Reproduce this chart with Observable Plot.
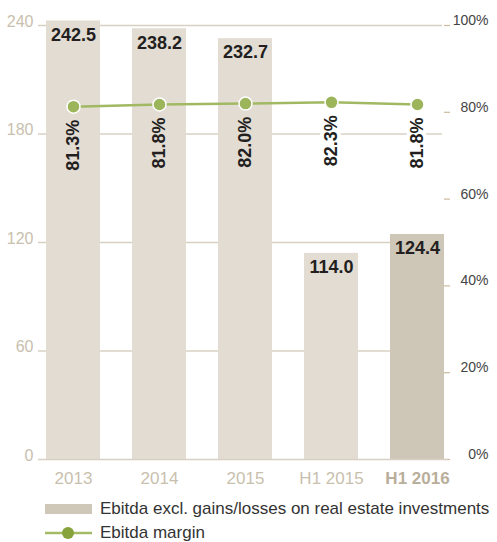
<!DOCTYPE html>
<html><head><meta charset="utf-8">
<script src="https://cdn.jsdelivr.net/npm/d3@7"></script>
<script src="https://cdn.jsdelivr.net/npm/@observablehq/plot@0.6"></script>
<style>
body{margin:0;background:#fff;font-family:"Liberation Sans",Arial,sans-serif;}
#legend{padding-top:5px;font-size:17px;color:#333;white-space:nowrap;}
.row{display:flex;align-items:center;height:24px;}
.sw{width:55px;padding-left:45px;display:flex;align-items:center;flex:none;}
</style>
</head><body>
<div id="chart"></div>
<div id="legend">
  <div class="row"><div class="sw"><div style="width:47px;height:10px;background:#cfc7b7"></div></div><span>Ebitda excl. gains/losses on real estate investments</span></div>
  <div class="row"><div class="sw"><svg width="47" height="14"><line x1="0" x2="47" y1="7" y2="7" stroke="#a3ba66" stroke-width="2.5"/><circle cx="23" cy="7" r="6" fill="#86a23a"/></svg></div><span>Ebitda margin</span></div>
</div>
<script>
const categories = ["2013", "2014", "2015", "H1 2015", "H1 2016"];
const ebitda = [242.5, 238.2, 232.7, 114.0, 124.4];
const margin = [81.3, 81.8, 82.0, 82.3, 81.8];
const leftTicks = [0, 60, 120, 180, 240];
const rightTicks = [0, 20, 40, 60, 80, 100];
const highlight = "H1 2016";

const data = categories.map((c, i) => ({cat: c, ebitda: ebitda[i], margin: margin[i], pct: margin[i] * 2.4}));
const barLight = "#e2dcd3", barDark = "#cec6b6";

const chart = Plot.plot({
  width: 497, height: 492,
  marginLeft: 29, marginRight: 36, marginTop: 25, marginBottom: 33,
  x: {domain: categories, paddingInner: 0.376, paddingOuter: 0.185, axis: null},
  y: {domain: [0, 240], axis: null},
  style: {fontFamily: "'Liberation Sans', Arial, sans-serif", background: "transparent"},
  marks: [
    Plot.ruleY(leftTicks.filter(d => d > 0), {stroke: "#d8d0c3", strokeWidth: 1.5, insetLeft: 9, insetRight: 19}),
    Plot.ruleY(rightTicks.map(d => d * 2.4), {stroke: "#cdbb9b", strokeWidth: 1.2, insetLeft: 415, insetRight: 11}),
    Plot.barY(data, {x: "cat", y: "ebitda", fill: d => d.cat === highlight ? barDark : barLight}),
    Plot.ruleY([0], {stroke: "#d8d0c3", strokeWidth: 1.5, insetLeft: 9, insetRight: 13}),
    Plot.text(leftTicks, {y: d => d, text: d => String(d), frameAnchor: "left", textAnchor: "end", lineAnchor: "middle", dx: 4, dy: -4, fill: "#c9bfae", fontSize: 16}),
    Plot.text(rightTicks, {y: d => d * 2.4, text: d => d + "%", frameAnchor: "right", textAnchor: "end", lineAnchor: "middle", dx: 27, dy: -5, fill: "#444", fontSize: 14}),
    Plot.text(data, {x: "cat", y: "ebitda", text: d => d.ebitda.toFixed(1), dy: 14, fontWeight: "bold", fontSize: 18, fill: "#231f20"}),
    Plot.text(data.filter(d => d.ebitda > 150), {x: "cat", y: "pct", text: d => d.margin.toFixed(1) + "%", rotate: -90, textAnchor: "end", dy: 13, fontWeight: "bold", fontSize: 18, fill: "#231f20"}),
    Plot.text(data.filter(d => d.ebitda <= 150), {x: "cat", y: "pct", text: d => d.margin.toFixed(1) + "%", rotate: -90, textAnchor: "end", dy: 13, fontWeight: "bold", fontSize: 18, fill: "#231f20", stroke: "white", strokeWidth: 8}),
    Plot.line(data, {x: "cat", y: "pct", stroke: "#a2b964", strokeWidth: 2.5}),
    Plot.dot(data, {x: "cat", y: "pct", r: 6.5, fill: "#9cb45a", stroke: "white", strokeWidth: 1.5}),
    Plot.text(data.filter(d => d.cat !== highlight), {x: "cat", text: "cat", frameAnchor: "bottom", lineAnchor: "middle", dy: 19, fontSize: 17, fill: "#c9bfae"}),
    Plot.text(data.filter(d => d.cat === highlight), {x: "cat", text: "cat", frameAnchor: "bottom", lineAnchor: "middle", dy: 19, fontSize: 17, fontWeight: "bold", fill: "#b9ae9b"})
  ]
});
document.getElementById("chart").appendChild(chart);
</script>
</body></html>
